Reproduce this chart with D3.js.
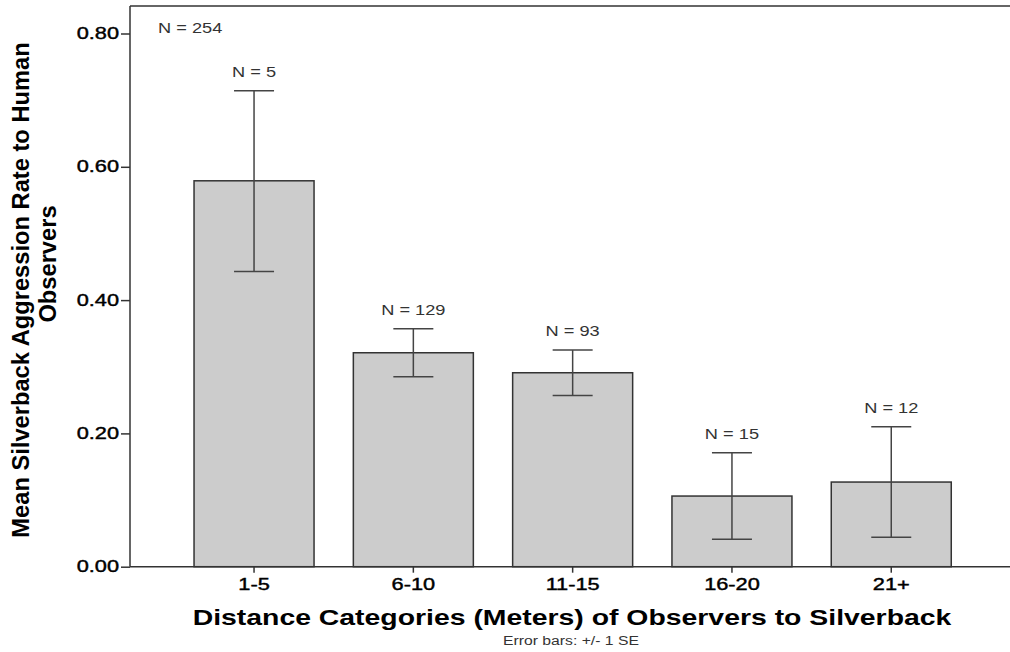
<!DOCTYPE html>
<html>
<head>
<meta charset="utf-8">
<script src="https://cdn.jsdelivr.net/npm/d3@7"></script>
<style>
  html, body { margin: 0; padding: 0; background: #fff; }
  svg { display: block; font-family: "Liberation Sans", Arial, sans-serif; }
</style>
</head>
<body>
<svg id="chart" width="1010" height="652"></svg>
<script>
const categories = ["1-5", "6-10", "11-15", "16-20", "21+"];
const means = [0.579, 0.321, 0.291, 0.106, 0.127];
const seUpper = [0.714, 0.357, 0.325, 0.171, 0.210];
const seLower = [0.443, 0.285, 0.257, 0.041, 0.044];
const nLabels = ["N = 5", "N = 129", "N = 93", "N = 15", "N = 12"];
const totalLabel = "N = 254";
const yTicks = [0.00, 0.20, 0.40, 0.60, 0.80];
const yTitleLines = ["Mean Silverback Aggression Rate to Human", "Observers"];
const xTitle = "Distance Categories (Meters) of Observers to Silverback";
const footnote = "Error bars: +/- 1 SE";

const svg = d3.select("#chart");
const mLeft = 130, mRight = 1015.3, mTop = 6, mBottom = 566.7;

const x = d3.scaleBand().domain(categories).range([mLeft, mRight])
  .paddingInner(0.2467).paddingOuter(0.402);
const y = d3.scaleLinear().domain([0, 0.8]).range([mBottom, 33.5]);

const dark = "#333";

// horizontal widening of text glyphs, as in the reference rendering
function widen(sel, f) {
  sel.each(function() {
    const len = this.getComputedTextLength();
    d3.select(this).attr("textLength", len * f).attr("lengthAdjust", "spacingAndGlyphs");
  });
}

// frame top line
svg.append("line").attr("x1", mLeft).attr("x2", 1010).attr("y1", mTop).attr("y2", mTop)
  .attr("stroke", dark).attr("stroke-width", 1.5);

// bars
svg.selectAll("rect.bar").data(categories).enter().append("rect")
  .attr("x", d => x(d)).attr("width", x.bandwidth())
  .attr("y", (d, i) => y(means[i])).attr("height", (d, i) => mBottom - y(means[i]))
  .attr("fill", "#cccccc").attr("stroke", dark).attr("stroke-width", 1.5);

// error bars
const g = svg.append("g").attr("stroke", "#444").attr("stroke-width", 1.5);
categories.forEach((c, i) => {
  const cx = x(c) + x.bandwidth() / 2;
  g.append("line").attr("x1", cx).attr("x2", cx).attr("y1", y(seUpper[i])).attr("y2", y(seLower[i]));
  g.append("line").attr("x1", cx - 20).attr("x2", cx + 20).attr("y1", y(seUpper[i])).attr("y2", y(seUpper[i]));
  g.append("line").attr("x1", cx - 20).attr("x2", cx + 20).attr("y1", y(seLower[i])).attr("y2", y(seLower[i]));
  const t = svg.append("text").attr("x", cx).attr("y", y(seUpper[i]) - 14)
    .attr("text-anchor", "middle").attr("font-size", 14).attr("fill", dark)
    .text(nLabels[i]);
  widen(t, 1.3);
});

// y axis
const yAxis = d3.axisLeft(y).tickValues(yTicks).tickFormat(d3.format(".2f")).tickSize(9).tickPadding(2);
const ya = svg.append("g").attr("transform", `translate(${mLeft},0)`).call(yAxis);
ya.select(".domain").attr("d", `M0,${mTop}V${mBottom}`).attr("stroke", dark).attr("stroke-width", 1.5);
ya.selectAll(".tick line").attr("stroke", dark).attr("stroke-width", 1.5);
ya.selectAll(".tick text").attr("font-size", 16).attr("fill", "#000")
  .attr("font-family", "Liberation Sans, Arial, sans-serif").attr("stroke", "#000").attr("stroke-width", 0.4);
widen(ya.selectAll(".tick text"), 1.36);

// x axis
const xAxis = d3.axisBottom(x).tickSize(6).tickPadding(6);
const xa = svg.append("g").attr("transform", `translate(0,${mBottom})`).call(xAxis);
xa.select(".domain").attr("d", `M${mLeft},0H1010`).attr("stroke", dark).attr("stroke-width", 1.5);
xa.selectAll(".tick line").attr("stroke", dark).attr("stroke-width", 1.5);
xa.selectAll(".tick text").attr("font-size", 16).attr("fill", "#000")
  .attr("font-family", "Liberation Sans, Arial, sans-serif").attr("stroke", "#000").attr("stroke-width", 0.4);
widen(xa.selectAll(".tick text"), 1.36);

// total N
const tn = svg.append("text").attr("x", 158).attr("y", 33).attr("font-size", 14).attr("fill", dark).text(totalLabel);
widen(tn, 1.3);

// y title
svg.append("text").attr("transform", "translate(29,290) rotate(-90)")
  .attr("text-anchor", "middle").attr("font-size", 23.7).attr("font-weight", "bold").attr("fill", "#000")
  .text(yTitleLines[0]);
svg.append("text").attr("transform", "translate(56,264) rotate(-90)")
  .attr("text-anchor", "middle").attr("font-size", 23.7).attr("font-weight", "bold").attr("fill", "#000")
  .text(yTitleLines[1]);

// x title
const xt = svg.append("text").attr("x", 572).attr("y", 625).attr("text-anchor", "middle")
  .attr("font-size", 22).attr("font-weight", "bold").attr("fill", "#000").text(xTitle);
widen(xt, 1.29);

const fn = svg.append("text").attr("x", 571).attr("y", 645).attr("text-anchor", "middle")
  .attr("font-size", 12).attr("fill", dark).text(footnote);
widen(fn, 1.31);
</script>
</body>
</html>
